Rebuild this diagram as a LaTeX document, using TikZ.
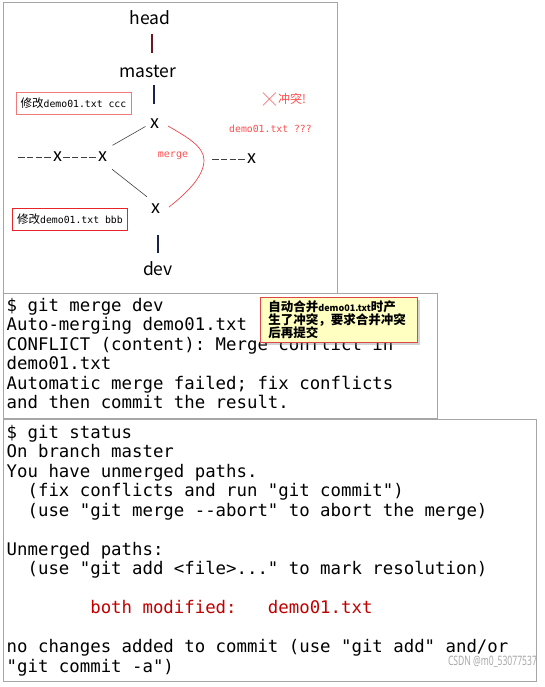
\documentclass[tikz,border=0pt]{standalone}
\usepackage{fontspec}
\setmonofont{DejaVu Sans Mono}
\newfontfamily\cjk{Noto Sans CJK SC}
\newfontfamily\wmfont[FakeStretch=0.66]{Noto Sans}
\usepackage{tikz}
\usetikzlibrary{positioning, shadows}
\definecolor{panelgray}{HTML}{A6A6A6}
\definecolor{darkred}{HTML}{6E1422}
\definecolor{darkblue}{HTML}{1B2448}
\definecolor{softred}{HTML}{F07A7A}
\definecolor{hotred}{HTML}{E8242B}
\definecolor{pinkred}{HTML}{FF4D4D}
\definecolor{termred}{HTML}{C00000}
\definecolor{tipyellow}{HTML}{FFFFC2}
\definecolor{tipborder}{HTML}{E04848}
\definecolor{markgray}{HTML}{A8A8A8}

\tikzset{
  panel/.style={draw=panelgray, line width=1pt},
  ref/.style={font=\cjk\fontsize{17.5}{20}\selectfont, inner sep=0pt},
  commit/.style={font=\cjk\fontsize{18}{20}\selectfont, inner sep=0pt,
                 minimum width=10pt, minimum height=18pt},
  bar/.style={line width=1.6pt},
  link/.style={draw=black!75, line width=0.6pt},
  trail/.style={link, dash pattern=on 6.5pt off 2.25pt},
  mergeline/.style={draw=hotred!85, line width=0.7pt},
  note/.style={draw, line width=0.9pt, inner sep=0pt, minimum width=115pt,
               minimum height=22pt, font=\ttfamily\fontsize{9.8}{12}\selectfont},
  redtext/.style={text=pinkred, inner sep=0pt, font=\ttfamily\fontsize{9.8}{12}\selectfont},
  term/.style={font=\ttfamily\fontsize{17.36}{19.5}\selectfont, align=left,
               inner sep=0pt, anchor=north west},
  tip/.style={fill=tipyellow, draw=tipborder, line width=0.9pt, anchor=north west,
              align=left, text width=141pt, inner xsep=8pt, inner ysep=3.5pt,
              font=\cjk\bfseries\fontsize{12.5}{13}\selectfont,
              drop shadow={shadow xshift=2.5pt, shadow yshift=-2.5pt, opacity=0.35}},
}

\begin{document}
\begin{tikzpicture}[x=1pt, y=-1pt]
  \useasboundingbox (0,0) rectangle (545,687);

  % panels
  \draw[panel] (3,3) rectangle (337,293);
  \draw[panel] (3,293) rectangle (437,418);
  \draw[panel] (3,419) rectangle (536,681);

  % branch pointers
  \node[ref] (head) at (150,18) {head};
  \node[ref] (master) at (148,72) {master};
  \node[ref] (dev) at (158,269) {dev};

  % commits
  \node[commit] (c1) at (58,157) {x};
  \node[commit] (c2) at (103,157) {x};
  \node[commit] (c3) at (155,124) {x};
  \node[commit] (c4) at (156,209) {x};
  \node[commit] (c5) at (252,159) {x};
  \coordinate (tailL) at (18,157);
  \coordinate (tailR) at (212,159);
  \coordinate (bend) at (204,160);

  \draw[bar, darkred] (head) ++(1.7,16) -- ++(0,18.7);
  \draw[bar, darkblue] (master) ++(6,13) -- ++(0,19);
  \draw[bar, darkblue] (dev) ++(0,-34) -- ++(0,18);

  \draw[trail] (tailL) -- (c1);
  \draw[trail] (c1) -- (c2);
  \draw[trail] (tailR) -- (c5);
  \draw[link, shorten <=5pt, shorten >=5pt] (c2.north east) -- (c3.west);
  \draw[link, shorten <=5pt, shorten >=5pt] (c2.south east) -- (c4.north west);
  \draw[mergeline] ([xshift=13pt, yshift=-2pt]c3.center) .. controls +(17,10) and +(0,-14) .. (bend)
    .. controls +(0,16) and +(19,-15) .. ([xshift=13pt, yshift=2pt]c4.center);
  \node[redtext, font=\ttfamily\fontsize{10}{12}\selectfont] (mergelabel) at (173,156) {merge};

  % notes
  \node[note, draw=softred] (editccc) at (73.5,103) {{\cjk\fontsize{11.5}{12}\selectfont 修改}demo01.txt ccc};
  \node[note, draw=hotred] (editbbb) at (70,219.5) {{\cjk\fontsize{11.5}{12}\selectfont 修改}demo01.txt bbb};
  \node[inner sep=0pt, text=pinkred, font=\cjk\fontsize{12}{14}\selectfont] (clash) at (292,99) {冲突!};
  \draw[softred, line width=0.7pt] (clash.west) ++(-15,-6.5) -- ++(13,13) ++(0,-13) -- ++(-13,13);
  \node[redtext] (conflictfile) at (270.5,129) {demo01.txt ???};

  % terminal output
  \node[term] (mergeout) at (6.5,297.6) {\strut\$ git merge dev\\
    Auto-merging demo01.txt\\
    CONFLICT (content): Merge conflict in\\
    demo01.txt\\
    Automatic merge failed; fix conflicts\\
    and then commit the result.};
  \node[term] (statusout) at (6.5,424.3) {\strut\$ git status\\
    On branch master\\
    You have unmerged paths.\\
    ~~(fix conflicts and run "git commit")\\
    ~~(use "git merge --abort" to abort the merge)\\
    ~\\
    Unmerged paths:\\
    ~~(use "git add <file>..." to mark resolution)\\
    ~\\
    ~~~~~~~~\textcolor{termred}{both modified:~~~demo01.txt}\\
    ~\\
    no changes added to commit (use "git add" and/or\\
    "git commit -a")};

  \node[tip] (hint) at (260,297) {自动合并{\fontsize{9}{13}\selectfont demo01.txt}时产\\
    生了冲突，要求合并冲突\\
    后再提交};

  \node[inner sep=0pt, text=markgray, font=\wmfont\fontsize{13}{15}\selectfont] (watermark) at (492.5,662) {CSDN @m0\_53077537};
\end{tikzpicture}
\end{document}
